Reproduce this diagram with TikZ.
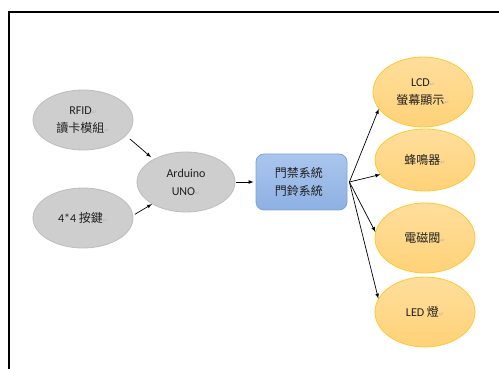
\documentclass[tikz,border=0pt]{standalone}
\usepackage{fontspec}
\setmainfont{Carlito}
\newfontfamily\cjk{Noto Sans CJK TC}
\newfontfamily\symfont{DejaVu Sans}
\usetikzlibrary{shapes.geometric}
\definecolor{grayfill}{HTML}{CECECE}
\definecolor{grayline}{HTML}{BDBDBD}
\definecolor{bluetop}{HTML}{AAC6EE}
\definecolor{bluebot}{HTML}{8DB0E3}
\definecolor{blueline}{HTML}{7FA3DA}
\definecolor{orangetop}{HTML}{FFDE9C}
\definecolor{orangebot}{HTML}{FFD278}
\definecolor{orangeline}{HTML}{FFC832}
\definecolor{txt}{HTML}{202020}
\newcommand{\zh}[1]{{\cjk\fontsize{12}{18}\selectfont #1}}
\newcommand{\retmark}{{\symfont\fontsize{6}{6}\selectfont\color{gray!60}\char"21B5}}
\begin{document}
\begin{tikzpicture}[x=1pt,y=-1pt,
    every node/.style={text=txt,font=\fontsize{12}{18}\selectfont,align=center,inner sep=0pt},
    inbox/.style={ellipse,draw=grayline,fill=grayfill,line width=0.8pt,minimum width=100pt,minimum height=60pt},
    outbox/.style={ellipse,draw=orangeline,top color=orangetop,bottom color=orangebot,line width=0.8pt,minimum width=100pt,minimum height=70pt},
    doorbox/.style={rectangle,rounded corners=8pt,draw=blueline,top color=bluetop,bottom color=bluebot,line width=0.8pt,minimum width=91pt,minimum height=56pt},
    link/.style={->,>=latex,line width=0.7pt,black}]
\useasboundingbox (0,0) rectangle (499,369);
% outer frame
\draw[line width=1.6pt] (9,369) -- (9,12) -- (499,12);
% inputs
\node[inbox] (rfid) at (83,120) {RFID\retmark\\\zh{讀卡模組}\retmark};
\node[inbox] (keypad) at (83,218) {4*4 \zh{按鍵}\retmark};
\node[inbox,minimum width=98pt] (uno) at (186,182) {Arduino\\UNO\retmark};
% controller
\node[doorbox] (door) at (301.5,182) {\zh{門禁系統}\retmark\\\zh{門鈴系統}\retmark};
\coordinate (fan) at ([xshift=2pt]door.east);
% outputs
\node[outbox] (lcd) at (423,92) {LCD\retmark\\\zh{螢幕顯示}\retmark};
\node[outbox,minimum height=62pt] (buzzer) at (425,160) {\zh{蜂鳴器}\retmark};
\node[outbox] (lock) at (425,238) {\zh{電磁閥}\retmark};
\node[outbox] (led) at (425,312) {LED \zh{燈}\retmark};
% arrows
\draw[link,shorten <=5pt,shorten >=3pt] (rfid.-20) -- (uno.145);
\draw[link,shorten <=2pt] (keypad.3) -- (uno.213);
\draw[link,shorten <=1pt,shorten >=2pt] (uno.east) -- (door.west);
\foreach \n/\a in {lcd/201,buzzer/198,lock/173,led/164}
    \draw[link] (fan) -- (\n.\a);
\end{tikzpicture}
\end{document}
